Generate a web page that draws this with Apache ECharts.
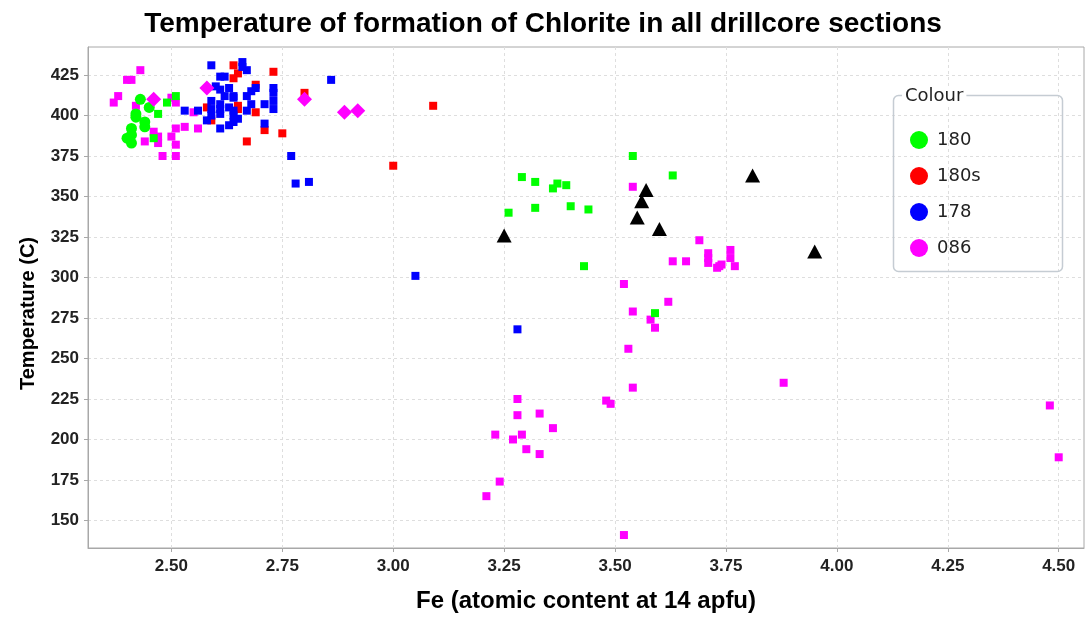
<!DOCTYPE html>
<html>
<head>
<meta charset="utf-8">
<script src="https://cdn.jsdelivr.net/npm/echarts@6/dist/echarts.min.js"></script>
<style>
html,body{margin:0;padding:0;background:#fff;}
#chart{width:1086px;height:619px;}
</style>
</head>
<body>
<div id="chart"></div>
<script>
// ---- Data (Fe apfu, Temperature C) ----
const xTicks = [2.5, 2.75, 3.0, 3.25, 3.5, 3.75, 4.0, 4.25, 4.5];
const yTicks = [150, 175, 200, 225, 250, 275, 300, 325, 350, 375, 400, 425];
const legendNames = ['180', '180s', '178', '086'];

const green180Circles = [
  [2.42, 401], [2.42, 399], [2.44, 396], [2.44, 393], [2.41, 392], [2.41, 388],
  [2.40, 386], [2.41, 383], [2.45, 405], [2.43, 410]
];
const green180Squares = [
  [2.47, 401], [2.49, 408], [2.51, 412], [2.46, 386],
  [3.54, 375], [3.29, 362], [3.32, 359], [3.37, 358], [3.36, 355], [3.39, 357],
  [3.63, 363], [3.26, 340], [3.32, 343], [3.40, 344], [3.44, 342], [3.43, 307],
  [3.59, 278]
];
const red180s = [
  [2.64, 431], [2.65, 426], [2.64, 423], [2.73, 427], [2.69, 419], [2.65, 406],
  [2.65, 404], [2.58, 405], [2.69, 402], [2.59, 397], [2.71, 391], [2.67, 384],
  [2.75, 389], [2.80, 414], [3.09, 406], [3.00, 369]
];
const blue178 = [
  [2.59, 431], [2.66, 433], [2.66, 430], [2.67, 428], [2.61, 424], [2.62, 424],
  [2.60, 418], [2.61, 416], [2.63, 417], [2.69, 417], [2.68, 415], [2.73, 417],
  [2.73, 414], [2.67, 412], [2.62, 412], [2.64, 412], [2.64, 411], [2.59, 409],
  [2.61, 407], [2.73, 409], [2.71, 407], [2.73, 404], [2.68, 407], [2.63, 405],
  [2.64, 403], [2.59, 404], [2.61, 404], [2.56, 403], [2.59, 400], [2.61, 401],
  [2.64, 400], [2.67, 403], [2.65, 398], [2.58, 397], [2.64, 396], [2.63, 394],
  [2.61, 392], [2.71, 395], [2.53, 403], [2.77, 375], [2.78, 358], [2.81, 359],
  [2.86, 422], [3.05, 301], [3.28, 268]
];
const magenta086Squares = [
  [2.43, 428], [2.40, 422], [2.41, 422], [2.38, 412], [2.37, 408], [2.42, 406],
  [2.50, 411], [2.51, 408], [2.55, 402], [2.53, 393], [2.51, 392], [2.46, 390],
  [2.44, 384], [2.47, 387], [2.47, 383], [2.50, 387], [2.51, 382], [2.48, 375],
  [2.51, 375], [2.56, 392],
  [3.54, 356], [3.63, 310], [3.66, 310], [3.52, 296], [3.69, 323], [3.71, 315],
  [3.71, 312], [3.71, 309], [3.76, 317], [3.76, 312], [3.73, 306], [3.735, 307],
  [3.74, 308], [3.77, 307], [3.62, 285], [3.54, 279], [3.58, 274], [3.59, 269],
  [3.53, 256], [3.54, 232], [3.48, 224], [3.49, 222], [3.28, 225], [3.28, 215],
  [3.33, 216], [3.36, 207], [3.23, 203], [3.29, 203], [3.27, 200], [3.30, 194],
  [3.33, 191], [3.24, 174], [3.21, 165], [3.52, 141], [3.88, 235], [4.48, 221],
  [4.50, 189]
];
const magenta086Diamonds = [
  [2.46, 410], [2.58, 417], [2.80, 410], [2.89, 402], [2.92, 403]
];
const blackTriangles = [
  [3.25, 326], [3.57, 354], [3.56, 347], [3.55, 337], [3.60, 330], [3.81, 363],
  [3.95, 316]
];

const GREEN = '#00ff00', RED = '#ff0000', BLUE = '#0000ff', MAGENTA = '#ff00ff';

const chart = echarts.init(document.getElementById('chart'), null, {renderer: 'canvas'});
const axisFont = 'Liberation Sans, Arial, sans-serif';

function sc(name, data, symbol, size, color, z) {
  return {
    type: 'scatter', name: name, data: data, symbol: symbol, symbolSize: size,
    itemStyle: {color: color, opacity: 1}, z: z || 2, animation: false,
    emphasis: {disabled: true}
  };
}

chart.setOption({
  backgroundColor: '#ffffff',
  animation: false,
  title: {
    text: 'Temperature of formation of Chlorite in all drillcore sections',
    left: 'center', top: 5,
    textStyle: {fontFamily: axisFont, fontWeight: 'bold', fontSize: 28, color: '#000'}
  },
  grid: {
    left: 88, right: 2, top: 47, bottom: 71,
    show: true, borderColor: '#a8a8a8', borderWidth: 1, backgroundColor: '#fff'
  },
  legend: {
    data: legendNames.map((n, i) => ({name: n, icon: 'circle',
      itemStyle: {color: [GREEN, RED, BLUE, MAGENTA][i]}})),
    orient: 'vertical', left: 905, top: 126,
    itemWidth: 18, itemHeight: 18, itemGap: 18,
    selectedMode: false, z: 12,
    textStyle: {fontFamily: 'DejaVu Sans, sans-serif', fontSize: 18, color: '#222',
      padding: [0, 0, 0, 4]}
  },
  graphic: [
    {type: 'rect', shape: {x: 893.5, y: 95.5, width: 169, height: 176, r: 5},
      style: {fill: 'none', stroke: '#c5ccd3', lineWidth: 1.5}, z: 10, silent: true},
    {type: 'text', x: 902, y: 87,
      style: {text: 'Colour', font: '18px DejaVu Sans, sans-serif', fill: '#222',
        backgroundColor: '#fff', padding: [0, 3, 0, 3]}, z: 11, silent: true}
  ],
  xAxis: {
    type: 'value', min: 2.312, max: 4.557,
    name: 'Fe (atomic content at 14 apfu)', nameLocation: 'middle', nameGap: 41,
    nameTextStyle: {fontFamily: axisFont, fontWeight: 'bold', fontSize: 24, color: '#000'},
    axisLine: {show: true, lineStyle: {color: '#a8a8a8'}},
    axisTick: {show: true, length: 4, customValues: xTicks, lineStyle: {color: '#a8a8a8'}},
    axisLabel: {customValues: xTicks, formatter: v => v.toFixed(2), margin: 10,
      fontFamily: axisFont, fontWeight: 'bold', fontSize: 17, color: '#222'},
    splitLine: {show: true, lineStyle: {color: '#dedede', type: [3, 3]}}
  },
  yAxis: {
    type: 'value', min: 133, max: 442.3,
    name: 'Temperature (C)', nameLocation: 'middle', nameGap: 50, nameRotate: 90,
    nameTextStyle: {fontFamily: axisFont, fontWeight: 'bold', fontSize: 20, color: '#000',
      padding: [0, 32, 0, 0]},
    axisLine: {show: true, lineStyle: {color: '#a8a8a8'}},
    axisTick: {show: true, length: 4, customValues: yTicks, lineStyle: {color: '#a8a8a8'}},
    axisLabel: {customValues: yTicks, margin: 9,
      fontFamily: axisFont, fontWeight: 'bold', fontSize: 17, color: '#222'},
    splitLine: {show: true, lineStyle: {color: '#dedede', type: [3, 3]}}
  },
  series: [
    sc('180', green180Circles, 'circle', 11, GREEN, 3),
    sc('180', green180Squares, 'rect', 8, GREEN, 3),
    sc('180s', red180s, 'rect', 8, RED, 2),
    sc('178', blue178, 'rect', 8, BLUE, 4),
    sc('086', magenta086Squares, 'rect', 8, MAGENTA, 2),
    sc('086', magenta086Diamonds, 'diamond', 15, MAGENTA, 5),
    sc('Other', blackTriangles, 'triangle', [15, 14], '#000000', 6)
  ]
});
</script>
</body>
</html>
